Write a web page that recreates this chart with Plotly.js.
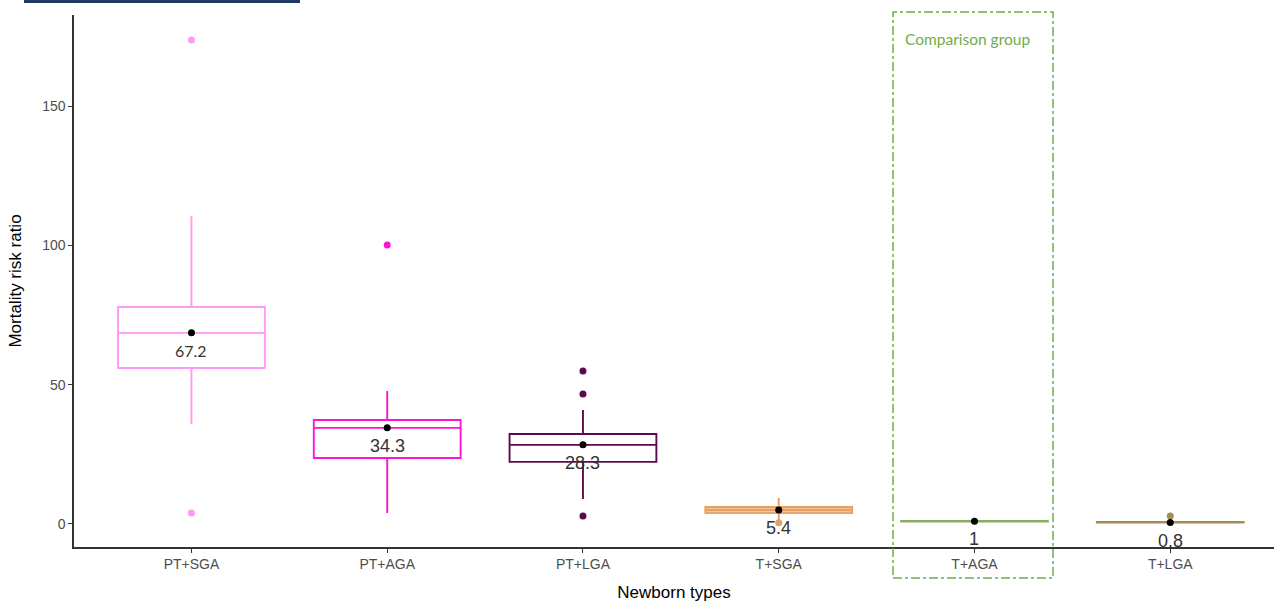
<!DOCTYPE html>
<html>
<head>
<meta charset="utf-8">
<script src="https://cdn.plot.ly/plotly-3.0.1.min.js"></script>
<style>html,body{margin:0;padding:0;background:#fff;}#chart{width:1274px;height:602px;}</style>
</head>
<body>
<div id="chart"></div>
<script>
const categories = ['PT+SGA', 'PT+AGA', 'PT+LGA', 'T+SGA', 'T+AGA', 'T+LGA'];
const lowerWhisker = [35.9, 3.9, 9.0, 1.4, 1.0, 0.4];
const q1Values = [56.0, 23.7, 22.3, 3.9, 0.9, 0.5];
const medianValues = [68.6, 34.5, 28.4, 5.0, 1.0, 0.6];
const q3Values = [77.9, 37.3, 32.3, 6.1, 1.1, 0.7];
const upperWhisker = [110.5, 47.7, 40.9, 9.3, 1.2, 0.8];
const meanValues = [68.6, 34.5, 28.4, 5.0, 1.0, 0.5];
const meanLabels = ['67.2', '34.3', '28.3', '5.4', '1', '0.8'];
const outliers = [[173.7, 3.9], [100.1], [54.9, 46.7, 2.9], [0.4], [], [2.9]];
const colors = ['#FF99F5', '#FF14D2', '#5C0A4E', '#E8A060', '#86AE62', '#A88C58'];
const fills = ['rgba(255,255,255,0)', 'rgba(255,255,255,0)', 'rgba(255,255,255,0)', 'rgba(236,170,110,0.7)', 'rgba(255,255,255,0)', 'rgba(255,255,255,0)'];
const yTicks = [0, 50, 100, 150];

const traces = [];
categories.forEach((c, i) => {
  traces.push({
    type: 'box', x: [c], q1: [q1Values[i]], median: [medianValues[i]], q3: [q3Values[i]],
    lowerfence: [lowerWhisker[i]], upperfence: [upperWhisker[i]],
    width: 0.75, whiskerwidth: 0, boxpoints: false,
    line: {color: colors[i], width: 1.9}, fillcolor: fills[i],
    showlegend: false, hoverinfo: 'skip'
  });
  if (outliers[i].length) {
    traces.push({
      type: 'scatter', mode: 'markers', x: outliers[i].map(() => c), y: outliers[i],
      marker: {color: colors[i], size: 7}, showlegend: false, hoverinfo: 'skip'
    });
  }
});
traces.push({
  type: 'scatter', mode: 'markers', x: categories, y: meanValues,
  marker: {color: '#000', size: 7}, showlegend: false, hoverinfo: 'skip'
});

const PH = 532, PB = 547, PL = 74, PW = 1200;
const px = v => (v - PL) / PW;
const py = v => (PB - v) / PH;

const annotations = categories.map((c, i) => ({
  x: c, y: meanValues[i], xref: 'x', yref: 'y', text: meanLabels[i], showarrow: false,
  yshift: -18, font: {family: i === 0 ? 'Lato, sans-serif' : 'Liberation Sans, Arial, sans-serif', size: i === 0 ? 16 : 18, color: '#333'}
}));
annotations.push({
  xref: 'paper', yref: 'paper', x: px(903), y: py(39), xanchor: 'left', yanchor: 'middle',
  text: 'Comparison group', showarrow: false, font: {family: 'Lato, sans-serif', size: 15.5, color: '#70AD47'}
});

const layout = {
  width: 1274, height: 602,
  margin: {l: 74, r: 0, t: 15, b: 55},
  paper_bgcolor: '#fff', plot_bgcolor: '#fff',
  showlegend: false,
  xaxis: {
    type: 'category', categoryorder: 'array', categoryarray: categories,
    range: [-0.6, 5.53], showgrid: false, zeroline: false,
    showline: true, linecolor: '#333', linewidth: 1.6,
    ticks: 'outside', ticklen: 4, tickcolor: '#333', tickwidth: 1,
    tickfont: {family: 'Liberation Sans, Arial, sans-serif', size: 14, color: '#4D4D4D'},
    title: {text: 'Newborn types', font: {family: 'Liberation Sans, Arial, sans-serif', size: 17, color: '#000'}, standoff: 14}
  },
  yaxis: {
    range: [-8.26, 182.7], showgrid: false, zeroline: false,
    showline: true, linecolor: '#333', linewidth: 1.6,
    tickvals: yTicks, ticktext: yTicks.map(String),
    ticks: 'outside', ticklen: 4, tickcolor: '#333', tickwidth: 1,
    tickfont: {family: 'Liberation Sans, Arial, sans-serif', size: 14, color: '#4D4D4D'},
    title: {text: 'Mortality risk ratio', font: {family: 'Liberation Sans, Arial, sans-serif', size: 17, color: '#000'}, standoff: 16}
  },
  shapes: [
    {type: 'rect', xref: 'paper', yref: 'paper',
     x0: px(893), x1: px(1053), y0: py(578), y1: py(12),
     line: {color: '#70AD47', width: 1.5, dash: 'dashdot'}, fillcolor: 'rgba(0,0,0,0)', layer: 'above'},
    {type: 'rect', xref: 'paper', yref: 'paper',
     x0: px(24), x1: px(300), y0: py(3), y1: py(-2),
     line: {width: 0}, fillcolor: '#1F3864', layer: 'above'}
  ],
  annotations: annotations
};

Plotly.newPlot('chart', traces, layout, {displayModeBar: false, staticPlot: true});
</script>
</body>
</html>
